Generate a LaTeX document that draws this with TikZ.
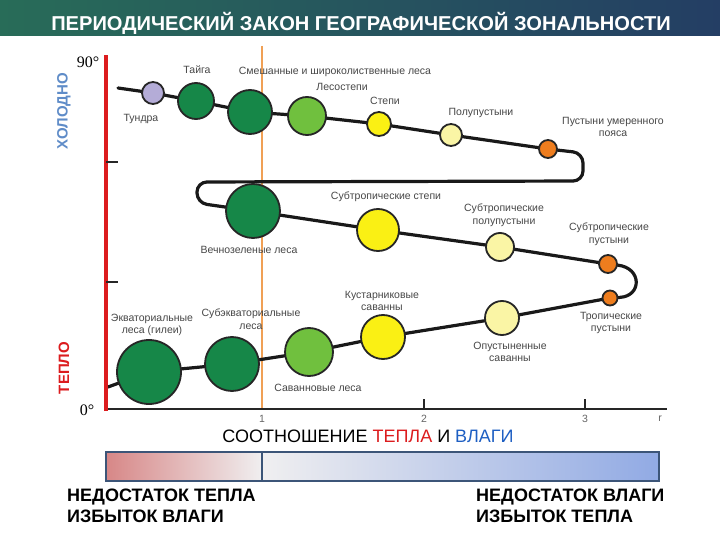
\documentclass[tikz,border=0pt]{standalone}
\usepackage{fontspec}
\setmainfont{Liberation Sans}
\newfontfamily\serifmain{Liberation Serif}
\usetikzlibrary{backgrounds}
\definecolor{cDark}{RGB}{22,135,72}
\definecolor{cLight}{RGB}{112,192,62}
\definecolor{cYel}{RGB}{250,240,20}
\definecolor{cPale}{RGB}{250,245,165}
\definecolor{cOr}{RGB}{238,125,30}
\definecolor{cLav}{RGB}{180,172,215}
\definecolor{cRed}{RGB}{220,28,30}
\definecolor{cOrLine}{RGB}{240,160,85}
\definecolor{cBlueTxt}{RGB}{30,95,195}
\definecolor{cCold}{RGB}{95,140,200}
\definecolor{cBanL}{RGB}{40,108,88}
\definecolor{cBanM}{RGB}{38,92,92}
\definecolor{cBanR}{RGB}{36,62,100}
\definecolor{cBarPink}{RGB}{215,135,135}
\definecolor{cBarMid}{RGB}{240,239,240}
\definecolor{cBarBlue}{RGB}{145,170,228}
\definecolor{cBarEdge}{RGB}{60,85,120}
\begin{document}
\begin{tikzpicture}[x=1pt,y=-1pt,
  zc/.style={circle,draw=black!85,line width=1.8pt,inner sep=0pt,minimum size=#1},
  lbl/.style={font=\fontsize{10.5}{12.5}\selectfont,text=black!72,align=center,inner sep=0pt},
  axl/.style={font=\fontsize{10.5}{12}\selectfont,text=black!60,inner sep=0pt},
  curvest/.style={line width=3.2pt,black!90,line join=round,line cap=round,rounded corners=10pt},
  tickst/.style={line width=1.6pt,black!85},
  bigtxt/.style={font=\bfseries\fontsize{18}{21}\selectfont,inner sep=0pt,anchor=north west,align=left}
]
\useasboundingbox (0,0) rectangle (720,540);
\begin{pgfonlayer}{background}
\fill[white] (0,0) rectangle (720,540);
\draw[line width=2.8pt,cOrLine] (262,46) -- (262,409);
\end{pgfonlayer}

% banner
\shade[left color=cBanL,middle color=cBanM,right color=cBanR] (0,0) rectangle (720,36);
\node[text=white,font=\bfseries\fontsize{20.1}{22}\selectfont,inner sep=0pt] (title) at (361,23) {ПЕРИОДИЧЕСКИЙ ЗАКОН ГЕОГРАФИЧЕСКОЙ ЗОНАЛЬНОСТИ};

% axes
\coordinate (o) at (106,409);
\coordinate (ytop) at (106,55);
\coordinate (xend) at (667,409);
\draw[line width=1.8pt,black!85] (o) -- (xend);
\draw[line width=4pt,cRed] (106,411) -- (ytop);
\draw[tickst] (106,162) -- (118,162);
\draw[tickst] (106,282) -- (118,282);
\draw[tickst] (424,409) -- (424,399);
\draw[tickst] (585,409) -- (585,399);
\node[axl] (t1) at (262,419) {1};
\node[axl] (t2) at (424,419) {2};
\node[axl] (t3) at (585,419) {3};
\node[axl] (tr) at (660,419) {r};
\node[font=\serifmain\fontsize{16}{16}\selectfont,inner sep=0pt] (deg90) at (88,62) {90°};
\node[font=\serifmain\fontsize{16}{16}\selectfont,inner sep=0pt] (deg0) at (87,410) {0°};
\node[rotate=90,font=\bfseries\fontsize{15}{15}\selectfont,text=cCold,inner sep=0pt] (cold) at (64,111) {ХОЛОДНО};
\node[rotate=90,font=\bfseries\fontsize{15}{15}\selectfont,text=cRed,inner sep=0pt] (warm) at (64,368) {ТЕПЛО};

% zone circles
\node[zc=22,fill=cLav] (tundra) at (153,93) {};
\node[zc=36,fill=cDark] (taiga) at (196,101) {};
\node[zc=44,fill=cDark] (mixed) at (250,112) {};
\node[zc=38,fill=cLight] (lesost) at (307,116) {};
\node[zc=24,fill=cYel] (steppe) at (379,124) {};
\node[zc=22,fill=cPale] (polup) at (451,135) {};
\node[zc=18,fill=cOr] (desT) at (548,149) {};
\node[zc=54,fill=cDark] (evergr) at (253,211) {};
\node[zc=42,fill=cYel] (substep) at (378,230) {};
\node[zc=28,fill=cPale] (subsemi) at (500,247) {};
\node[zc=18,fill=cOr] (subdes) at (608,264) {};
\node[zc=15,fill=cOr] (tropdes) at (610,298) {};
\node[zc=34,fill=cPale] (opust) at (502,318) {};
\node[zc=44,fill=cYel] (shrub) at (383,337) {};
\node[zc=48,fill=cLight] (savfor) at (309,352) {};
\node[zc=54,fill=cDark] (subeq) at (232,364) {};
\node[zc=64,fill=cDark] (equat) at (149,372) {};
\coordinate (cstart) at (118,88);
\coordinate (cend) at (108,387);

\begin{pgfonlayer}{background}
\draw[curvest] (cstart) -- (tundra.center) -- (taiga.center) -- (mixed.center) -- (lesost.center)
  -- (steppe.center) -- (polup.center) -- (desT.center) -- (583,153) -- (583,181) -- (197,182)
  -- (197,203) -- (evergr.center) -- (substep.center) -- (subsemi.center) -- (subdes.center)
  .. controls (642,268) and (642,296) .. (tropdes.center)
  -- (opust.center) -- (shrub.center) -- (savfor.center) -- (subeq.center) -- (equat.center) -- (cend);
\end{pgfonlayer}

% labels
\node[lbl] (l-taiga) at (197,70) {Тайга};
\node[lbl] (l-mixed) at (335,72) {Смешанные и широколиственные леса};
\node[lbl] (l-lesost) at (342,87) {Лесостепи};
\node[lbl] (l-steppe) at (385,101) {Степи};
\node[lbl] (l-tundra) at (141,119) {Тундра};
\node[lbl] (l-polup) at (481,113) {Полупустыни};
\node[lbl] (l-desT) at (613,127) {Пустыни умеренного\\пояса};
\node[lbl] (l-substep) at (386,197) {Субтропические степи};
\node[lbl] (l-evergr) at (249,250) {Вечнозеленые леса};
\node[lbl] (l-subsemi) at (504,215) {Субтропические\\полупустыни};
\node[lbl] (l-subdes) at (609,234) {Субтропические\\пустыни};
\node[lbl] (l-tropdes) at (611,323) {Тропические\\пустыни};
\node[lbl] (l-opust) at (510,352) {Опустыненные\\саванны};
\node[lbl] (l-shrub) at (382,301) {Кустарниковые\\саванны};
\node[lbl] (l-subeq) at (251,319) {Субэкваториальные\\леса};
\node[lbl] (l-equat) at (152,325) {Экваториальные\\леса (гилеи)};
\node[lbl] (l-savfor) at (318,388) {Саванновые леса};

% ratio title
\node[font=\fontsize{18}{20}\selectfont,inner sep=0pt] (ratio) at (368,436) {СООТНОШЕНИЕ \textcolor{cRed}{ТЕПЛА} И \textcolor{cBlueTxt}{ВЛАГИ}};

% gradient bar
\shade[left color=cBarPink,right color=cBarMid] (106,452) rectangle (262,481);
\shade[left color=cBarMid,middle color=cBarMid!80!cBarBlue,right color=cBarBlue] (262,452) rectangle (659,481);
\draw[line width=1.5pt,cBarEdge] (106,452) rectangle (659,481);
\draw[line width=1.5pt,cBarEdge] (262,452) -- (262,481);

\node[bigtxt] (left-txt) at (67,489) {НЕДОСТАТОК ТЕПЛА\\ИЗБЫТОК ВЛАГИ};
\node[bigtxt] (right-txt) at (476,489) {НЕДОСТАТОК ВЛАГИ\\ИЗБЫТОК ТЕПЛА};
\end{tikzpicture}
\end{document}
